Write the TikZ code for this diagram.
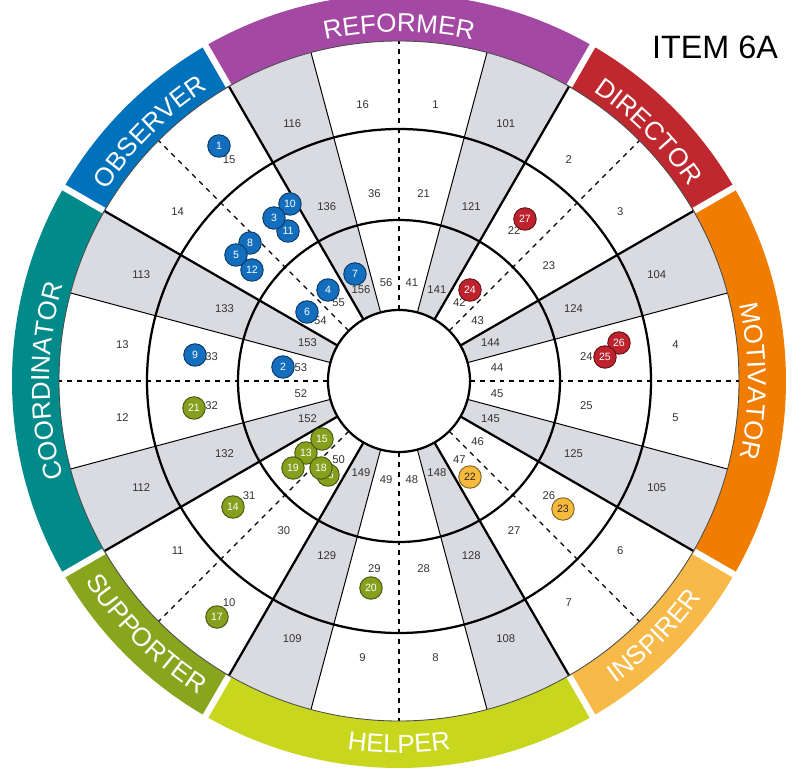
\documentclass[tikz,border=0pt]{standalone}
\usepackage{fontspec}
\setmainfont{Liberation Sans}
\usetikzlibrary{decorations.text}
\definecolor{cellgray}{RGB}{218,219,224}
\definecolor{reformer}{RGB}{163,73,164}
\definecolor{director}{RGB}{190,40,46}
\definecolor{motivator}{RGB}{240,125,0}
\definecolor{inspirer}{RGB}{247,185,72}
\definecolor{helper}{RGB}{200,214,30}
\definecolor{supporter}{RGB}{136,165,30}
\definecolor{coordinator}{RGB}{0,138,138}
\definecolor{observer}{RGB}{0,114,188}
\definecolor{dotblue}{RGB}{20,110,190}
\definecolor{dotred}{RGB}{190,35,45}
\definecolor{dotyellow}{RGB}{246,186,60}
\definecolor{dotgreen}{RGB}{134,160,30}
\newcommand\bandfont{\fontsize{18.5}{20}\selectfont\color{white}}

\begin{document}
\begin{tikzpicture}[scale=0.25,
		num/.style={font=\fontsize{8}{9}\selectfont, text=black!80, inner sep=0pt},
		dot/.style={circle, fill=#1, draw=#1!55!black, line width=0.7pt, text=white, minimum size=16pt, inner sep=0pt, font=\fontsize{7.5}{8}\selectfont},
		thickline/.style={line width=1.6pt},
		thinline/.style={line width=0.7pt},
		dashline/.style={line width=0.8pt, dash pattern=on 3.5pt off 3.5pt}]
	\useasboundingbox (-39.9,-38.9) rectangle (39.6,38.1);
	% coloured bands
	\foreach \c/\h/\col in {90/30/reformer, 45/15/director, 0/30/motivator, -45/15/inspirer, -90/30/helper, -135/15/supporter, 180/30/coordinator, 135/15/observer}
		\fill[\col] ({\c-\h}:34) arc[start angle=\c-\h, end angle=\c+\h, radius=34] -- ({\c+\h}:38.7) arc[start angle=\c+\h, end angle=\c-\h, radius=38.7] -- cycle;
	\foreach \a in {30,60,120,150,210,240,300,330}
		\draw[white, line width=4.5pt] (\a:34.1) -- (\a:39.5);
	% grey cells
	\foreach \a in {15,60,105,150,195,240,285,330}
		\fill[cellgray] (\a:7.1) arc[start angle=\a, end angle=\a+15, radius=7.1] -- ({\a+15}:34) arc[start angle=\a+15, end angle=\a, radius=34] -- cycle;
	% spokes and rings
	\foreach \a in {0,45,...,315}
		\draw[dashline] (\a:7.1) -- (\a:34);
	\foreach \a in {15,75,105,165,195,255,285,345}
		\draw[thinline] (\a:7.1) -- (\a:34);
	\foreach \a in {30,60,120,150,210,240,300,330}
		\draw[thickline] (\a:7.1) -- (\a:34);
	\draw[thickline] (0,0) circle[radius=16.1] (0,0) circle[radius=25.2];
	\draw[black!70, line width=0.6pt] (0,0) circle[radius=34];
	\draw[thickline, fill=white] (0,0) circle[radius=7.1];
	% band titles
	\path[decorate, decoration={text along path, text align=center, text={|\bandfont|REFORMER}}] (120:34.9) arc[start angle=120, end angle=60, radius=34.9];
	\path[decorate, decoration={text along path, text align=center, text={|\bandfont|DIRECTOR}}] (60:34.9) arc[start angle=60, end angle=30, radius=34.9];
	\path[decorate, decoration={text along path, text align=center, text={|\bandfont|MOTIVATOR}}] (30:34.9) arc[start angle=30, end angle=-30, radius=34.9];
	\path[decorate, decoration={text along path, text align=center, text={|\bandfont|INSPIRER}}] (-60:37.2) arc[start angle=-60, end angle=-30, radius=37.2];
	\path[decorate, decoration={text along path, text align=center, text={|\bandfont|HELPER}}] (-120:37.2) arc[start angle=-120, end angle=-60, radius=37.2];
	\path[decorate, decoration={text along path, text align=center, text={|\bandfont|SUPPORTER}}] (-150:37.2) arc[start angle=-150, end angle=-120, radius=37.2];
	\path[decorate, decoration={text along path, text align=center, text={|\bandfont|COORDINATOR}}] (210:34.9) arc[start angle=210, end angle=150, radius=34.9];
	\path[decorate, decoration={text along path, text align=center, text={|\bandfont|OBSERVER}}] (150:34.9) arc[start angle=150, end angle=120, radius=34.9];
	% cell numbers
	\foreach \k/\n in {0/1, 1/101, 2/2, 3/3, 4/104, 5/4, 6/5, 7/105, 8/6, 9/7, 10/108, 11/8, 12/9, 13/109, 14/10, 15/11, 16/112, 17/12, 18/13, 19/113, 20/14, 21/15, 22/116, 23/16}{
		\pgfmathtruncatemacro\mnum{\n+20}
		\pgfmathtruncatemacro\inum{\n+40}
		\node[num] (o\n) at ({82.5-15*\k}:27.9) {\n};
		\ifnum\mnum=34 \else\ifnum\mnum=35 \else
			\node[num] (m\mnum) at ({82.5-15*\k}:18.9) {\mnum};
		\fi\fi
		\ifnum\inum=51 \else
			\node[num] (i\inum) at ({82.5-15*\k}:9.9) {\inum};
		\fi
	}
	% markers
	\node[dot=dotblue] (b1) at (-18.0,23.5) {1};
	\node[dot=dotblue] (b10) at (-10.9,17.7) {10};
	\node[dot=dotblue] (b11) at (-11.1,15.0) {11};
	\node[dot=dotblue] (b3) at (-12.5,16.3) {3};
	\node[dot=dotblue] (b8) at (-14.9,13.8) {8};
	\node[dot=dotblue] (b12) at (-14.7,11.1) {12};
	\node[dot=dotblue] (b5) at (-16.3,12.6) {5};
	\node[dot=dotblue] (b7) at (-4.4,10.7) {7};
	\node[dot=dotblue] (b4) at (-7.1,9.1) {4};
	\node[dot=dotblue] (b6) at (-9.2,6.9) {6};
	\node[dot=dotblue] (b2) at (-11.6,1.4) {2};
	\node[dot=dotblue] (b9) at (-20.4,2.6) {9};
	\node[dot=dotred] (r27) at (12.6,16.2) {27};
	\node[dot=dotred] (r24) at (7.1,9.1) {24};
	\node[dot=dotred] (r26) at (22.0,3.8) {26};
	\node[dot=dotred] (r25) at (20.6,2.4) {25};
	\node[dot=dotyellow, text=black!85] (y22) at (7.1,-9.6) {22};
	\node[dot=dotyellow, text=black!85] (y23) at (16.4,-12.8) {23};
	\node[dot=dotgreen] (g21) at (-20.5,-2.7) {21};
	\node[dot=dotgreen] (g14) at (-16.6,-12.6) {14};
	\node[dot=dotgreen] (g17) at (-18.2,-23.6) {17};
	\node[dot=dotgreen] (g20) at (-2.8,-20.7) {20};
	\node[dot=dotgreen] (g16) at (-7.1,-9.4) {16};
	\node[dot=dotgreen] (g13) at (-9.3,-7.2) {13};
	\node[dot=dotgreen] (g15) at (-7.7,-5.8) {15};
	\node[dot=dotgreen] (g19) at (-10.6,-8.7) {19};
	\node[dot=dotgreen] (g18) at (-7.8,-8.7) {18};
	% title
	\node[font=\fontsize{23}{24}\selectfont, inner sep=0pt] (item) at (31.6,33.35) {ITEM 6A};
\end{tikzpicture}
\end{document}
